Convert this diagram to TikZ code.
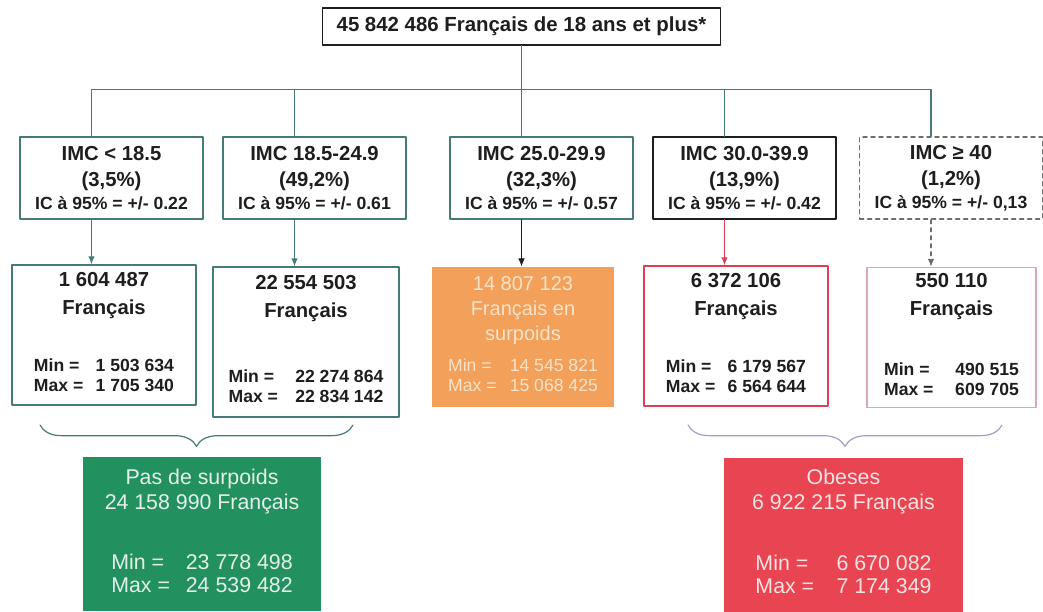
\documentclass[tikz,border=0pt]{standalone}
\usepackage{fontspec}
\setmainfont{Liberation Sans}
\usepackage{xcolor}
\usepackage{tikz}
\usetikzlibrary{arrows.meta,decorations.pathreplacing}
\definecolor{bmiTeal}{HTML}{467A77}
\definecolor{bmiInk}{HTML}{1E1E1E}
\definecolor{bmiGreen}{HTML}{23915F}
\definecolor{bmiRed}{HTML}{E94451}
\definecolor{bmiOrange}{HTML}{F2A05A}
\definecolor{bmiRose}{HTML}{DE3E56}
\definecolor{bmiPink}{HTML}{D9A6BD}
\definecolor{bmiLilac}{HTML}{A99AC6}
\definecolor{bmiGrey}{HTML}{6E6E6E}
\definecolor{bmiMint}{HTML}{E3F1E8}
\definecolor{bmiCream}{HTML}{FCE3CA}
\definecolor{bmiBlush}{HTML}{FBE2E2}
\newcommand{\icsize}{\fontsize{13.2}{16}\selectfont}
\newcommand{\mmsize}{\fontsize{13.2}{15}\selectfont}
\newcommand{\minmax}[3][62pt]{\begin{tabular}[t]{@{}l@{\hspace{6pt}}r@{}}Min =&\makebox[#1][r]{#2}\\Max =&\makebox[#1][r]{#3}\end{tabular}}
\tikzset{
  bmi diagram/.style={font=\fontsize{15}{20}\selectfont, text=bmiInk,
    line cap=round, line join=round},
  bmi total/.style={draw=bmiInk, line width=0.8pt, fill=white, inner sep=0pt,
    minimum width=299pt, minimum height=27.75pt,
    font=\bfseries\fontsize{15.3}{18}\selectfont},
  bmi class/.style={draw=bmiTeal, line width=1.1pt, fill=white, align=center,
    inner sep=0pt, minimum width=137pt, minimum height=61.5pt,
    font=\bfseries\fontsize{15.2}{20}\selectfont},
  bmi count/.style={draw=bmiTeal, line width=1.1pt, fill=white, align=center,
    inner sep=0pt, minimum width=138pt, minimum height=105pt,
    font=\bfseries\fontsize{15.2}{21}\selectfont},
  bmi group/.style={align=center, inner sep=0pt, minimum width=179pt,
    minimum height=115.5pt, font=\fontsize{16}{19}\selectfont},
  bmi bus/.style={draw=bmiTeal, line width=0.9pt},
  bmi arrow/.style={-{Latex[length=6pt,width=5pt]}, draw=bmiTeal, line width=0.9pt},
  bmi brace/.style={decorate, decoration={brace, amplitude=16pt}, line width=0.9pt}
}
\begin{document}
\begin{tikzpicture}[x=0.75pt, y=-0.75pt, bmi diagram]
\useasboundingbox (0,0) rectangle (1043,611);
% whole population
\node[bmi total] (total) at (521.5,26.5) {45 842 486 Français de 18 ans et plus*};
% BMI classes
\node[bmi class] (imcA) at (111.5,178) {IMC < 18.5\\(3,5\%)\\[-3pt]{\icsize IC à 95\% = +/- 0.22}};
\node[bmi class] (imcB) at (314.5,178) {IMC 18.5-24.9\\(49,2\%)\\[-3pt]{\icsize IC à 95\% = +/- 0.61}};
\node[bmi class] (imcC) at (541.5,178) {IMC 25.0-29.9\\(32,3\%)\\[-3pt]{\icsize IC à 95\% = +/- 0.57}};
\node[bmi class, draw=bmiInk] (imcD) at (744.5,178) {IMC 30.0-39.9\\(13,9\%)\\[-3pt]{\icsize IC à 95\% = +/- 0.42}};
\node[bmi class, draw=bmiGrey, dashed] (imcE) at (951,178) {IMC ≥ 40\\(1,2\%)\\[-3pt]{\icsize IC à 95\% = +/- 0,13}};
% counts per class
\node[bmi count] (popA) at (104,335) {1 604 487\\Français\\[22pt]{\mmsize\minmax{1 503 634}{1 705 340}}};
\node[bmi count, minimum width=139.5pt, minimum height=112.5pt] (popB) at (306,342) {22 554 503\\Français\\[28pt]{\mmsize\minmax[73pt]{22 274 864}{22 834 142}}};
\node[bmi count, draw=none, fill=bmiOrange, text=bmiCream, minimum width=136.5pt,
  font=\fontsize{15}{19}\selectfont] (popC) at (523,337) {14 807 123\\Français en\\surpoids\\[4pt]{\mmsize\minmax[70pt]{14 545 821}{15 068 425}}};
\node[bmi count, draw=bmiRose] (popD) at (736,336) {6 372 106\\Français\\[22pt]{\mmsize\minmax{6 179 567}{6 564 644}}};
\node[bmi count, draw=bmiPink, minimum width=126.75pt] (popE) at (951.5,337.5) {550 110\\Français\\[24pt]{\mmsize\minmax[58pt]{490 515}{609 705}}};
% totals by group
\node[bmi group, fill=bmiGreen, text=bmiMint] (normal) at (202,534) {Pas de surpoids\\24 158 990 Français\\[26pt]{\fontsize{16}{17}\selectfont\minmax[86pt]{23 778 498}{24 539 482}}};
\node[bmi group, fill=bmiRed, text=bmiBlush] (obese) at (843.5,534.5) {Obeses\\6 922 215 Français\\[27pt]{\fontsize{16}{17}\selectfont\minmax[82pt]{6 670 082}{7 174 349}}};

% tree from the total to the classes
\draw[bmi bus] (total.south) -- ++(0,44) coordinate (hub);
\coordinate (topA) at ([xshift=-15pt]imcA.north);
\coordinate (topB) at ([xshift=-15pt]imcB.north);
\coordinate (topC) at ([xshift=-15pt]imcC.north);
\coordinate (topD) at ([xshift=-15pt]imcD.north);
\coordinate (topE) at ([xshift=-15pt]imcE.north);
\draw[bmi bus] (hub) -| (topA);
\draw[bmi bus] (hub) -| (topB);
\draw[bmi bus] (hub) -- (topC);
\draw[bmi bus] (hub) -| (topD);
\draw[bmi bus] (hub) -| (topE);

% classes to counts
\coordinate (botA) at ([xshift=-15pt]imcA.south);
\coordinate (botB) at ([xshift=-15pt]imcB.south);
\coordinate (botC) at ([xshift=-15pt]imcC.south);
\coordinate (botD) at ([xshift=-15pt]imcD.south);
\coordinate (botE) at ([xshift=-15pt]imcE.south);
\draw[bmi arrow] (botA) -- (botA |- popA.north);
\draw[bmi arrow] (botB) -- (botB |- popB.north);
\draw[bmi arrow, draw=bmiInk, line width=0.6pt] (botC) -- (botC |- popC.north);
\draw[bmi arrow, draw=bmiRose] (botD) -- (botD |- popD.north);
\draw[bmi arrow, draw=bmiGrey, dashed] (botE) -- (botE |- popE.north);

% braces
\coordinate (braceAl) at (40,425);
\coordinate (braceAr) at (353,425);
\coordinate (braceBl) at (688,425);
\coordinate (braceBr) at (1002,425);
\draw[bmi brace, draw=bmiTeal] (braceAr) -- (braceAl);
\draw[bmi brace, draw=bmiLilac] (braceBr) -- (braceBl);
\end{tikzpicture}
\end{document}
